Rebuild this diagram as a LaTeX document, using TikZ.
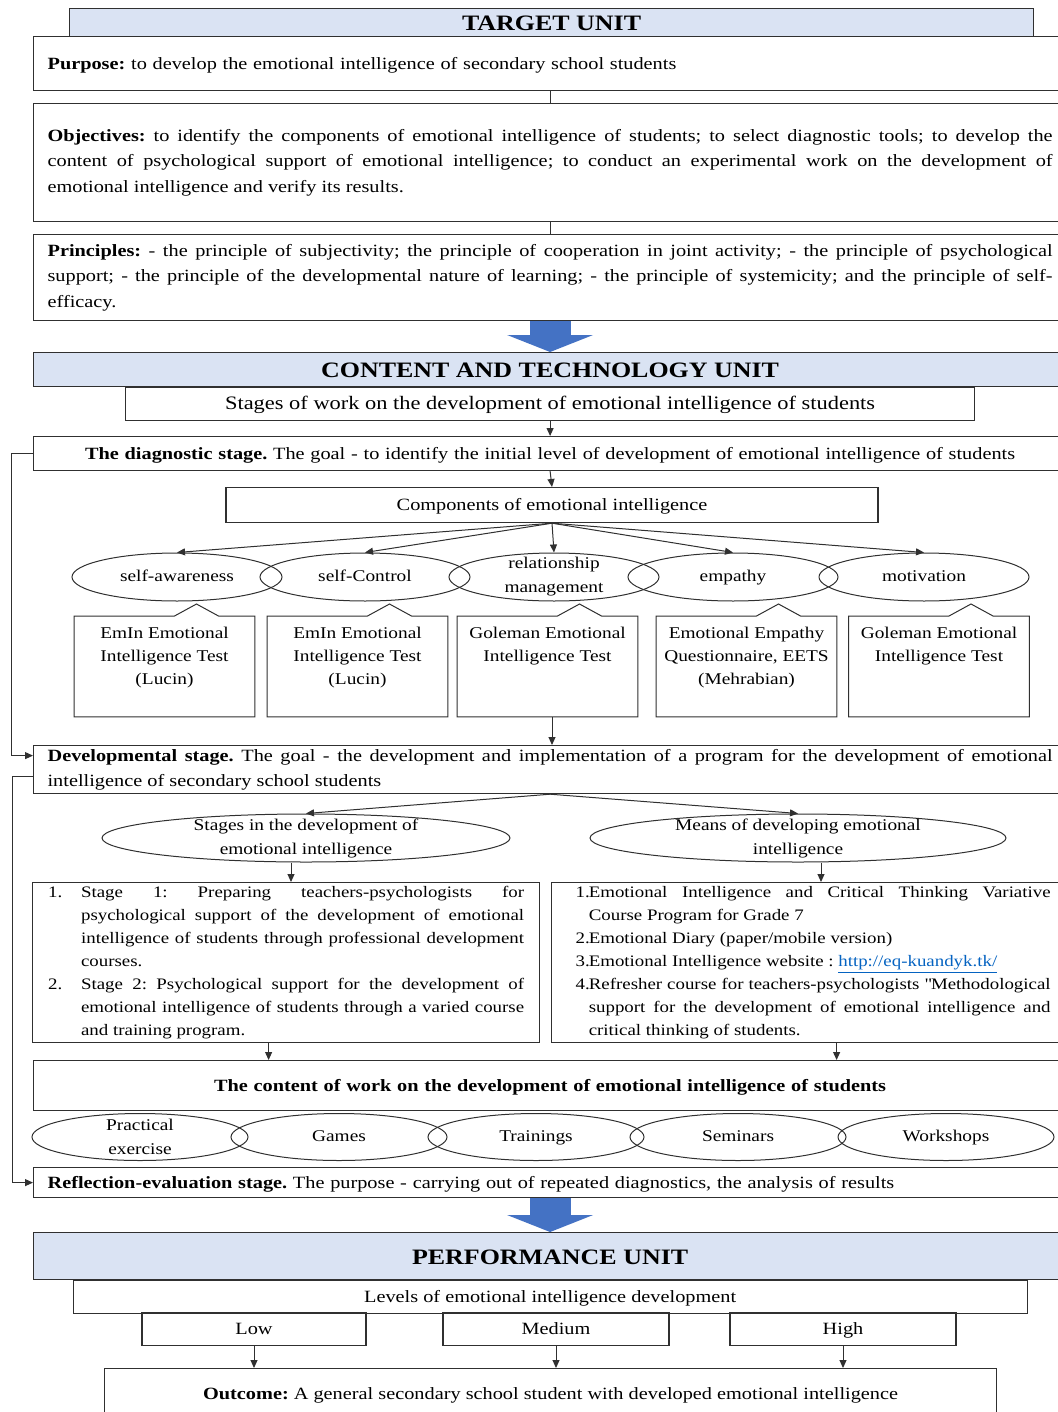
\documentclass[tikz,border=0pt]{standalone}
\usepackage{fontspec}
\setmainfont{Liberation Serif}[FakeStretch=1.18]
\usepackage{xcolor}
\usepackage{tikz}
\usetikzlibrary{shapes.geometric,arrows.meta,positioning,calc}

\definecolor{headblue}{HTML}{DAE3F3}
\definecolor{bigblue}{HTML}{4472C4}
\definecolor{linkblue}{HTML}{0563C1}
\definecolor{edge}{HTML}{303030}
\hyphenpenalty=10000
\tolerance=9999
\frenchspacing

\newcommand{\calltext}[1]{\parbox[c][46pt][t]{88pt}{\centering\rule{0pt}{9.1pt}#1}}
\newcommand{\numitem}[2]{\noindent\hangindent=#1\hangafter=1\makebox[#1][l]{#2}}

\begin{document}
\begin{tikzpicture}[x=0.5pt,y=-0.5pt,
  txt/.style={font=\fontsize{8.6}{12.75}\selectfont},
  small/.style={font=\fontsize{8.2}{11.5}\selectfont},
  one/.style={text height=7.5pt,text depth=2pt},
  box/.style={draw=edge,line width=0.6pt,inner xsep=7pt,inner ysep=0pt,txt},
  wide/.style={box,anchor=north west,text width=502.5pt},
  head/.style={box,anchor=north west,fill=headblue,align=center,text height=8pt,text depth=0pt,font=\fontsize{11}{13}\selectfont\bfseries},
  list/.style={box,anchor=north west,minimum height=80pt,align=justify,font=\fontsize{8}{11.5}\selectfont},
  oval/.style={ellipse,draw=edge,line width=0.5pt,inner sep=0pt,minimum width=105pt,minimum height=24pt,text height=5.8pt,text depth=1.8pt,small},
  form/.style={oval,minimum width=108pt,minimum height=23.5pt},
  lbl/.style={align=center,font=\fontsize{8.2}{12}\selectfont},
  callout/.style={anchor=north,minimum width=90pt,minimum height=50pt,inner sep=0pt,small},
  line/.style={draw=edge,line width=0.5pt},
  arr/.style={line,-{Triangle[length=4pt,width=3.5pt]}},
  bigarr/.style={draw=bigblue,line width=20.5pt,-{Triangle[length=8.5pt,width=43pt,line width=0pt]}}
]
\useasboundingbox (0,0) rectangle (1057,1412);

% target unit
\node[head,minimum width=482pt,minimum height=14pt] (tgt) at (69,8) {TARGET UNIT};
\node[wide,one,minimum height=27pt,align=left] (pur) at (33,36) {\textbf{Purpose:} to develop the emotional intelligence of secondary school students};
\node[wide,minimum height=59pt,align=justify] (obj) at (33,103) {\textbf{Objectives:} to identify the components of emotional intelligence of students; to select diagnostic tools; to develop the\linebreak{} content of psychological support of emotional intelligence; to conduct an experimental work on the development of\linebreak{} emotional intelligence and verify its results.};
\node[wide,minimum height=43pt,align=justify] (pri) at (33,234) {\textbf{Principles:} - the principle of subjectivity; the principle of cooperation in joint activity; - the principle of psychological\linebreak{} support; - the principle of the developmental nature of learning; - the principle of systemicity; and the principle of self-\linebreak{}efficacy.};
\draw[line] (pur.south) -- (obj.north);
\draw[line] (obj.south) -- (pri.north);

% content and technology unit
\node[head,minimum width=516.5pt,minimum height=17pt] (ct) at (33,352) {CONTENT AND TECHNOLOGY UNIT};
\draw[bigarr] (pri.south) -- (ct.north);
\node[box,one,below=0pt of ct,minimum width=424.5pt,minimum height=16.5pt,font=\fontsize{9.5}{12}\selectfont] (stg) {Stages of work on the development of emotional intelligence of students};
\node[wide,one,minimum height=17pt,align=center] (diag) at (33,436) {\textbf{The diagnostic stage.} The goal - to identify the initial level of development of emotional intelligence of students};
\node[box,one,anchor=north,minimum width=326pt,minimum height=17.5pt] (comp) at (552,487) {Components of emotional intelligence};
\draw[arr] (stg.south) -- (diag.north);
\draw[arr] (diag.south) -- (comp.north);

% components
\node[oval] (aware) at (177,577) {self-awareness};
\node[oval] (ctrl) at (365,577) {self-Control};
\node[oval,label={[lbl]center:relationship\\management}] (rel) at (554,577) {};
\node[oval] (emp) at (733,577) {empathy};
\node[oval] (mot) at (924,577) {motivation};
\foreach \e in {aware,ctrl,rel,emp,mot}
  \draw[arr] (comp.south) -- (\e.north);

% diagnostic tools
\node[callout] (t1) at (164.5,616) {\calltext{EmIn Emotional\\Intelligence Test\\(Lucin)}};
\node[callout] (t2) at (357.5,616) {\calltext{EmIn Emotional\\Intelligence Test\\(Lucin)}};
\node[callout] (t3) at (547.5,616) {\calltext{Goleman Emotional\\Intelligence Test}};
\node[callout] (t4) at (746.5,616) {\calltext{Emotional Empathy\\Questionnaire, EETS\\(Mehrabian)}};
\node[callout] (t5) at (939,616) {\calltext{Goleman Emotional\\Intelligence Test}};
\foreach \t in {t1,t2,t3,t4,t5}
  \draw[line] (\t.north west) -- ([xshift=5pt]\t.north) -- ([xshift=16pt,yshift=6pt]\t.north)
    -- ([xshift=27pt]\t.north) -- (\t.north east) |- (\t.south west) -- cycle;

% developmental stage
\node[wide,minimum height=24pt,align=justify] (dev) at (33,745) {\textbf{Developmental stage.} The goal - the development and implementation of a program for the development of emotional\linebreak{} intelligence of secondary school students};
\draw[arr] (t3.south -| comp.south) -- (dev.north -| comp.south);
\coordinate (fbx) at (11,0);
\coordinate (fby) at (12,0);
\coordinate (d1) at ([yshift=7pt]dev.west);
\coordinate (d2) at ([yshift=-3.5pt]dev.west);
\draw[arr] (diag.west) -| (fbx |- d1) -- (d1);

\node[oval,minimum width=204pt,label={[lbl]center:Stages in the development of\\emotional intelligence}] (stov) at (306,838) {};
\node[oval,minimum width=208pt,label={[lbl]center:Means of developing emotional\\intelligence}] (mnov) at (798,838) {};
\draw[arr] (dev.south) -- (stov.north);
\draw[arr] (dev.south) -- (mnov.north);

\node[list,text width=238pt,inner xsep=7.75pt] (stlist) at (32,882) {\numitem{16.5pt}{1.}Stage 1: Preparing teachers-psychologists for\linebreak{} psychological support of the development of emotional\linebreak{} intelligence of students through professional development\linebreak{} courses.\par
\numitem{16.5pt}{2.}Stage 2: Psychological support for the development of\linebreak{} emotional intelligence of students through a varied course\linebreak{} and training program.\par};
\node[list,text width=237.5pt,inner xsep=12pt] (mnlist) at (551,882) {\numitem{6.6pt}{1.}Emotional Intelligence and Critical Thinking Variative\linebreak{} Course Program for Grade 7\par
\numitem{6.6pt}{2.}Emotional Diary (paper/mobile version)\par
\numitem{6.6pt}{3.}Emotional Intelligence website : \textcolor{linkblue}{\underline{http://eq-kuandyk.tk/}}\par
\numitem{6.6pt}{4.}Refresher course for teachers-psychologists \textquotedbl Methodological\linebreak{} support for the development of emotional intelligence and\linebreak{} critical thinking of students.\par};
\coordinate (s1) at ([xshift=-7.5pt]stov.south);
\coordinate (s2) at ([xshift=11.5pt]mnov.south);
\draw[arr] (s1) -- (s1 |- stlist.north);
\draw[arr] (s2) -- (s2 |- mnlist.north);

% content of work
\node[wide,one,minimum height=25pt,align=center] (cnt) at (33,1060) {\textbf{The content of work on the development of emotional intelligence of students}};
\coordinate (l1) at ([xshift=-8.75pt]stlist.south);
\coordinate (l2) at ([xshift=11.75pt]mnlist.south);
\draw[arr] (l1) -- (l1 |- cnt.north);
\draw[arr] (l2) -- (l2 |- cnt.north);

\node[form,label={[lbl]center:Practical\\exercise}] (prac) at (140,1137) {};
\node[form] (game) at (339,1137) {Games};
\node[form] (trn) at (536,1137) {Trainings};
\node[form] (sem) at (738,1137) {Seminars};
\node[form] (wsh) at (946,1137) {Workshops};

% reflection-evaluation stage
\node[wide,one,minimum height=15pt,align=left] (refl) at (33,1167) {\textbf{Reflection-evaluation stage.} The purpose - carrying out of repeated diagnostics, the analysis of results};
\draw[arr] (d2) -| (fby |- refl.west) -- (refl.west);

% performance unit
\node[head,minimum width=516.5pt,minimum height=23.5pt] (perf) at (33,1232) {PERFORMANCE UNIT};
\draw[bigarr] (refl.south) -- (perf.north);
\node[box,one,below=0pt of perf,minimum width=477pt,minimum height=16.5pt] (lvl) {Levels of emotional intelligence development};
\node[box,one,anchor=north,minimum width=112pt,minimum height=16.5pt] (low) at (254,1312) {Low};
\node[box,one,anchor=north,minimum width=113pt,minimum height=16.5pt] (med) at (556,1312) {Medium};
\node[box,one,anchor=north,minimum width=113pt,minimum height=16.5pt] (high) at (843,1312) {High};
\node[box,one,anchor=north west,minimum width=446pt,minimum height=25pt] (out) at (104,1368) {\textbf{Outcome:} A general secondary school student with developed emotional intelligence};
\foreach \l in {low,med,high}
  \draw[arr] (\l.south) -- (\l.south |- out.north);
\end{tikzpicture}
\end{document}
